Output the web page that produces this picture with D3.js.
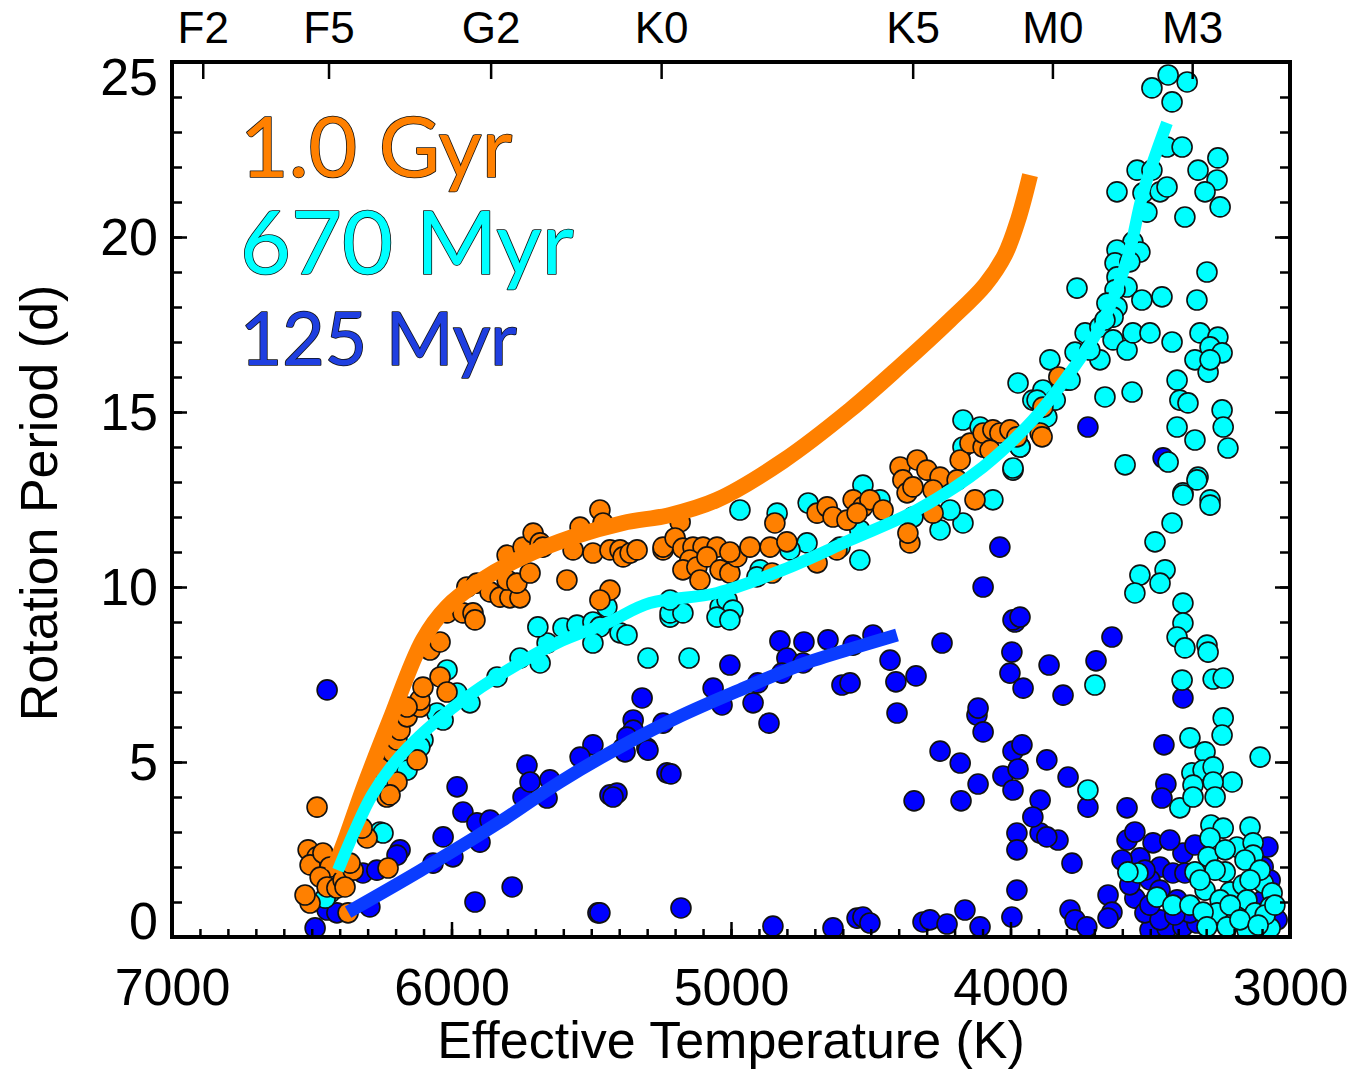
<!DOCTYPE html>
<html>
<head>
<meta charset="utf-8">
<script src="https://cdn.jsdelivr.net/npm/d3@7"></script>
<style>
  html, body { margin: 0; padding: 0; background: #fff; }
  svg { display: block; }
</style>
</head>
<body>
<svg id="chart" width="1352" height="1071"></svg>
<script>
// Spectral types along the top axis and their effective temperatures (K)
const spectralTypes = ["F2", "F5", "G2", "K0", "K5", "M0", "M3"];
const spectralTeff  = [6890, 6440, 5860, 5250, 4350, 3850, 3350];

// Bottom and left axis tick values
const teffTicks = [7000, 6000, 5000, 4000, 3000];
const periodTicks = [0, 5, 10, 15, 20, 25];

// Legend labels
const seriesLabels = ["1.0 Gyr", "670 Myr", "125 Myr"];

// Measured rotation periods: [Teff (K), Prot (d)]
const points125Myr = [
  [6488,0.26],[6445,0.77],[6410,0.69],[6292,0.86],[6317,1.83],[6267,1.91],[6184,2.49],[6195,2.34],
  [6030,2.86],[6066,2.11],[5995,2.29],[5959,3.57],[5909,3.26],[5862,3.34],[5898,2.71],[5980,4.29],
  [5916,1.0],[5783,1.43],[5476,0.69],[5744,4.0],[5658,3.97],[5433,4.06],[6445,7.06],
  [5318,6.83],[5350,6.2],[5350,5.91],[5301,5.4],[5386,5.4],[5494,5.49],[5540,5.14],[5730,4.91],
  [5719,4.43],[5648,4.49],[5408,4.11],[5229,4.69],
  [4825,8.46],[4739,8.43],[4653,8.49],[4563,8.34],[4492,8.63],[4431,7.91],[4410,7.29],[4338,7.46],
  [4406,6.4],[4245,8.4],[4603,7.2],[4574,7.26],[4800,7.97],[4742,7.83],[4818,7.54],[4904,7.26],
  [4921,6.69],[4864,6.11],[5004,7.77],[5064,7.11],[5032,6.63],[5243,6.11],[5372,5.71],[5297,5.34],
  [5379,5.29],[5215,4.66],[5422,4.0],[5179,0.83],[5469,0.69],[4850,0.31],[4635,0.26],[4549,0.54],
  [4528,0.57],[4503,0.4],[4313,0.43],[4288,0.49],[4227,0.37],[4163,0.77],[4109,0.29],[3995,0.57],
  [4345,3.89],[4252,5.31],[4180,4.97],[4177,3.89],[4116,4.37],[4027,4.6],[3991,5.31],[3991,4.2],
  [4120,6.34],[4098,5.86],[4116,6.54],[4002,7.54],[3995,8.14],[3984,9.0],[3977,2.97],[3977,2.49],
  [3977,1.34],[4038,11.14],[3991,9.06],[3966,9.14],[3955,7.11],[3862,7.77],[3812,6.91],[3694,7.89],
  [3637,8.57],[3959,5.49],[3870,5.06],[3973,4.8],[3794,4.57],[3894,3.91],[3451,5.49],[3383,6.83],
  [3444,4.37],[3723,14.57],[3454,13.69],[4098,10.0],
  [3458,3.97],[3583,3.69],[3723,3.71],[3780,2.11],[3830,2.77],[3651,1.2],[3637,0.71],[3651,0.54],
  [3787,0.77],[3769,0.49],[3727,0.29],[3583,2.77],[3555,3.0],[3490,2.69],[3537,2.26],[3465,2.0],
  [3419,1.83],[3383,2.4],[3501,1.63],[3555,1.11],[3465,1.34],[3501,0.2],[3440,0.26],[3383,0.29],
  [3333,0.4],[3079,2.57],[3096,2.0],[3071,1.63],[3096,1.06],[3046,0.49],[3519,0.69],[3358,0.69],
  [3404,1.06],[3894,2.97],[3920,3.43],[3870,2.86],
  [3519,1.91],[3430,2.77],[3376,1.83],[3573,1.49],[3465,0.49],[3340,2.63],[3601,2.2],[3501,0.91],[3412,0.63]
];

const points670Myr = [
  [6435,1.26],[6452,1.11],[6256,3.0],[6245,2.97],
  [6016,7.63],[5980,6.97],[5934,6.69],[6052,6.4],[6030,6.2],[6102,5.63],[6113,5.43],[6159,4.77],
  [5837,7.43],[5755,7.97],[5683,7.83],[5658,8.4],[5691,8.86],[5601,8.83],[5551,8.91],[5494,9.0],
  [5469,8.86],[5494,8.4],[5397,8.69],[5372,8.63],[5297,7.97],[5444,9.43],[5218,9.14],[5150,7.97],
  [4968,12.2],[4835,12.11],[4724,12.4],[4528,12.91],[4467,12.49],[4170,14.77],[4109,14.57],[4170,14.0],
  [3991,13.34],[4063,12.49],[3966,14.0],[3920,15.34],[4252,11.63],[4170,11.83],[4216,12.2],[4349,12.0],
  [4539,11.63],[4610,11.14],[4728,11.26],[4789,11.06],[4539,10.77],[4896,10.49],[4907,10.29],
  [5218,9.26],[5172,9.26],[5218,9.63],[5039,9.43],[5014,9.63],[4993,9.34],[5050,9.14],[5004,9.06],
  [3494,24.26],[3436,24.63],[3368,24.43],[3422,23.86],[3440,22.57],[3386,22.57],[3547,21.91],[3494,21.91],
  [3619,21.29],[3526,21.26],[3465,21.29],[3440,21.43],[3512,20.71],[3329,21.91],[3258,22.26],[3261,21.63],
  [3304,21.29],[3250,20.86],[3376,20.57],[3562,19.86],[3619,19.63],[3537,19.57],[3626,19.26],[3573,19.29],
  [3619,18.86],[3583,18.57],[3626,18.49],[3655,18.11],[3619,18.0],[3633,17.71],[3762,18.54],[3530,18.2],
  [3458,18.29],[3297,19.0],[3333,18.2],[3733,17.26],[3680,17.43],[3633,17.06],[3583,16.77],[3562,17.26],
  [3501,17.26],[3422,17.0],[3322,17.26],[3258,17.14],[3286,16.86],[3340,16.49],[3243,16.69],[3293,16.14],
  [3286,16.49],[3859,16.49],[3769,16.71],[3680,16.49],[3798,15.91],[3973,15.83],[3884,15.63],[3905,15.34],
  [3870,14.86],[3662,15.43],[3565,15.57],[3404,15.91],[3394,15.34],[3365,15.26],[3404,14.57],[3340,14.2],
  [3243,15.06],[3239,14.57],[3222,13.97],[3991,13.4],[3966,14.0],[3590,13.49],[3436,13.57],[3329,13.14],
  [3383,12.69],[3286,12.49],[3840,15.34],[3787,15.91],[3716,16.77],[3662,17.63],
  [3383,12.63],[3333,13.06],[3286,12.34],[3422,11.83],[3483,11.29],[3537,10.34],[3447,10.49],[3465,10.11],
  [3555,9.83],[3383,9.54],[3383,8.97],[3404,8.57],[3376,8.26],[3297,8.34],[3293,8.14],[3386,7.34],
  [3275,7.37],[3239,7.4],[3239,6.26],[3243,5.77],[3358,5.69],[3304,5.29],[3107,5.14],[3698,7.2],
  [3723,4.2],[3351,4.69],[3311,4.77],[3275,4.86],[3207,4.43],[3347,4.34],[3275,4.43],
  [3394,3.69],[3347,4.0],[3268,4.0],[3283,3.2],[3239,3.11],[3143,3.14],[3286,2.83],[3190,2.57],
  [3132,2.69],[3132,2.34],[3293,2.29],[3544,1.83],[3580,1.86],[3340,1.86],[3232,1.86],[3304,1.34],
  [3214,1.29],[3168,1.49],[3096,1.54],[3064,1.26],[3476,1.14],[3419,0.91],[3358,0.91],[3250,1.06],
  [3154,1.06],[3125,0.69],[3190,0.57],[3261,0.69],[3311,0.71],[3071,0.26],[3225,0.29],[3154,0.2],
  [3071,0.86],[3297,0.29],[3161,2.2],[3107,1.91],[3214,0.91],[3089,0.63],[3143,1.63],[3054,0.91],
  [3268,1.91],[3179,0.49],[3114,0.34],[3232,2.49],[3322,1.63]
];

const points1Gyr = [
  [6481,3.71],[6513,2.49],[6481,2.29],[6506,2.06],[6460,2.4],[6435,2.0],[6470,1.71],[6445,1.43],
  [6410,1.4],[6388,1.63],[6352,1.91],[6363,2.11],[6302,2.83],[6320,3.11],[6227,1.97],[6506,0.97],
  [6524,1.2],[6370,0.69],[6381,1.43],[6231,4.0],[6195,4.43],
  [6220,4.06],[6256,4.83],[6209,5.26],[6123,5.06],[6195,5.63],[6184,5.91],[6159,6.29],[6113,6.57],
  [6113,6.77],[6102,7.14],[6041,7.43],[6016,7.0],[6159,6.57],[6077,8.2],[6041,8.43],[6016,9.26],
  [5959,9.26],[5923,9.26],[5916,9.06],[5945,10.0],[5909,10.11],[5862,9.86],[5826,9.71],[5791,9.69],
  [5755,9.69],[5801,10.2],[5766,10.11],[5719,10.4],[5801,10.91],[5744,11.14],[5708,11.54],[5683,11.26],
  [5673,11.14],[5587,10.2],[5540,11.71],[5469,12.2],[5458,11.83],[5494,10.97],[5565,11.06],[5433,11.06],
  [5397,11.06],[5386,10.86],[5361,10.97],[5336,11.06],[5243,11.06],[5433,9.91],[5469,9.63],
  [5182,11.86],[5243,11.14],[5200,11.4],[5172,11.11],[5136,11.14],[5100,11.14],[5050,11.14],[5147,10.77],
  [5172,10.49],[5122,10.57],[5111,10.2],[5086,10.86],[5039,10.49],[5004,10.4],[4979,10.86],[5004,11.0],
  [4932,11.14],[4860,11.14],[4843,11.83],[4800,11.29],[4853,10.4],[4692,12.11],[4656,12.29],[4635,12.0],
  [4585,11.91],[4563,12.49],[4528,12.29],[4503,12.49],[4456,12.2],[4549,12.11],[4621,11.06],[4692,10.69],
  [4395,13.43],[4385,13.06],[4370,12.69],[4349,12.86],[4334,13.63],[4299,13.34],[4252,13.14],[4277,12.77],
  [4360,11.26],[4367,11.54],[4277,12.11],[4191,13.06],[4180,13.63],[4127,12.49],[4145,14.11],[4098,14.0],
  [4098,14.4],[4063,14.49],[4038,14.4],[4002,14.49],[3977,14.29],[3894,14.4],[4073,13.91],[3827,16.0],
  [3884,15.14],[3887,14.29]
];

// Gyrochronology sequences: [Teff (K), Prot (d)]
const curve1Gyr = [
  [6424,1.86],[6374,2.91],[6317,4.2],[6220,6.2],[6102,8.49],[6016,9.43],[5909,10.11],[5744,10.86],
  [5565,11.43],[5386,11.83],[5218,12.06],[5050,12.49],[4814,13.6],[4574,15.06],[4395,16.31],
  [4216,17.63],[4091,18.63],[4020,19.49],[3973,20.49],[3930,21.77]
];
const curve670Myr = [
  [6406,1.91],[6345,3.06],[6284,4.06],[6202,5.0],[6102,5.83],[5959,6.77],[5816,7.54],[5623,8.4],
  [5444,8.97],[5290,9.54],[5050,9.83],[4814,10.49],[4574,11.34],[4335,12.2],[4098,13.43],[3920,14.77],
  [3798,16.0],[3680,17.43],[3583,19.34],[3526,21.26],[3440,23.26]
];
const curve125Myr = [
  [6370,0.71],[6113,1.89],[5826,3.29],[5612,4.43],[5397,5.43],[5182,6.31],[4968,7.06],[4753,7.77],
  [4539,8.31],[4406,8.63]
];

const colors = {
  gyr1: "#ff8000",
  myr670: "#00ffff",
  myr125: "#0000ff",
  line125: "#0a3cff",
  label125: "#1f3fe0"
};

const svg = d3.select("#chart");
const frame = { left: 172, right: 1290, top: 62, bottom: 937 };

const x = d3.scaleLinear().domain([7000, 3000]).range([frame.left, frame.right]);
const y = d3.scaleLinear().domain([0, 25]).range([frame.bottom, frame.top]);

const axisFont = "'Liberation Sans', Arial, Helvetica, sans-serif";

// clip for the data marks
svg.append("defs").append("clipPath").attr("id", "plot-clip")
  .append("rect").attr("x", frame.left).attr("y", frame.top)
  .attr("width", frame.right - frame.left).attr("height", frame.bottom - frame.top);

const plot = svg.append("g").attr("clip-path", "url(#plot-clip)");

function drawPoints(data, fill) {
  plot.append("g").selectAll("circle").data(data).join("circle")
    .attr("cx", d => x(d[0]))
    .attr("cy", d => y(d[1]))
    .attr("r", 10)
    .attr("fill", fill)
    .attr("stroke", "#111")
    .attr("stroke-width", 1.6);
}
drawPoints(points125Myr, colors.myr125);
drawPoints(points670Myr, colors.myr670);
drawPoints(points1Gyr, colors.gyr1);

const line = d3.line().x(d => x(d[0])).y(d => y(d[1])).curve(d3.curveCatmullRom.alpha(0.5));
function drawCurve(data, stroke, width) {
  plot.append("path").datum(data)
    .attr("d", line)
    .attr("fill", "none")
    .attr("stroke", stroke)
    .attr("stroke-width", width)
    .attr("stroke-linecap", "butt")
    .attr("stroke-linejoin", "round");
}
drawCurve(curve1Gyr, colors.gyr1, 16);
drawCurve(curve670Myr, colors.myr670, 12);
drawCurve(curve125Myr, colors.line125, 13);

// Axes
function styleAxis(g) {
  g.select(".domain").remove();
  g.selectAll(".tick line").attr("stroke", "#000").attr("stroke-width", 2.5);
  g.selectAll(".tick text").attr("fill", "#000").style("font-family", axisFont);
}

const minorTeff = d3.range(3000, 7001, 100);
const minorP = d3.range(0, 26, 1);

// bottom
svg.append("g").attr("transform", `translate(0,${frame.bottom})`)
  .call(d3.axisBottom(x).tickValues(minorTeff).tickSize(-8).tickFormat(""))
  .call(styleAxis);
const xb = svg.append("g").attr("transform", `translate(0,${frame.bottom})`)
  .call(d3.axisBottom(x).tickValues(teffTicks).tickSize(-15).tickPadding(31).tickFormat(d3.format("d")))
  .call(styleAxis);
xb.selectAll(".tick text").style("font-size", "52px");

// left
svg.append("g").attr("transform", `translate(${frame.left},0)`)
  .call(d3.axisLeft(y).tickValues(minorP).tickSize(-10).tickFormat(""))
  .call(styleAxis);
const yl = svg.append("g").attr("transform", `translate(${frame.left},0)`)
  .call(d3.axisLeft(y).tickValues(periodTicks).tickSize(-15).tickPadding(14).tickFormat(d3.format("d")))
  .call(styleAxis);
yl.selectAll(".tick text").style("font-size", "52px")
  .attr("dy", d => d === 25 ? "0.62em" : d === 0 ? "0.02em" : "0.34em");

// right
svg.append("g").attr("transform", `translate(${frame.right},0)`)
  .call(d3.axisRight(y).tickValues(minorP).tickSize(-10).tickFormat(""))
  .call(styleAxis);
svg.append("g").attr("transform", `translate(${frame.right},0)`)
  .call(d3.axisRight(y).tickValues(periodTicks).tickSize(-15).tickFormat(""))
  .call(styleAxis);

// top: spectral types
const xt = svg.append("g").attr("transform", `translate(0,${frame.top})`)
  .call(d3.axisTop(x).tickValues(spectralTeff).tickSize(-17).tickPadding(19)
    .tickFormat((d, i) => spectralTypes[i]))
  .call(styleAxis);
xt.selectAll(".tick text").style("font-size", "44px");

// frame
svg.append("rect")
  .attr("x", frame.left).attr("y", frame.top)
  .attr("width", frame.right - frame.left).attr("height", frame.bottom - frame.top)
  .attr("fill", "none").attr("stroke", "#000").attr("stroke-width", 4);

// axis titles
svg.append("text")
  .attr("x", 731).attr("y", 1058)
  .attr("text-anchor", "middle")
  .style("font-family", axisFont).style("font-size", "52px")
  .text("Effective Temperature (K)");

svg.append("text")
  .attr("transform", `translate(57,503) rotate(-90)`)
  .attr("text-anchor", "middle")
  .style("font-family", axisFont).style("font-size", "52px")
  .text("Rotation Period (d)");

// age labels
const labelFont = "Lato, 'Open Sans', sans-serif";
const labelSpecs = [
  { text: seriesLabels[0], y: 177, size: 84, fill: colors.gyr1 },
  { text: seriesLabels[1], y: 274, size: 88, fill: colors.myr670 },
  { text: seriesLabels[2], y: 365, size: 73, fill: colors.label125 }
];
svg.append("g").selectAll("text").data(labelSpecs).join("text")
  .attr("x", 240).attr("y", d => d.y)
  .style("font-family", labelFont)
  .style("font-size", d => d.size + "px")
  .attr("fill", d => d.fill)
  .attr("stroke", "#111").attr("stroke-width", 1.6)
  .style("paint-order", "stroke")
  .attr("stroke-linejoin", "round")
  .text(d => d.text);
</script>
</body>
</html>
